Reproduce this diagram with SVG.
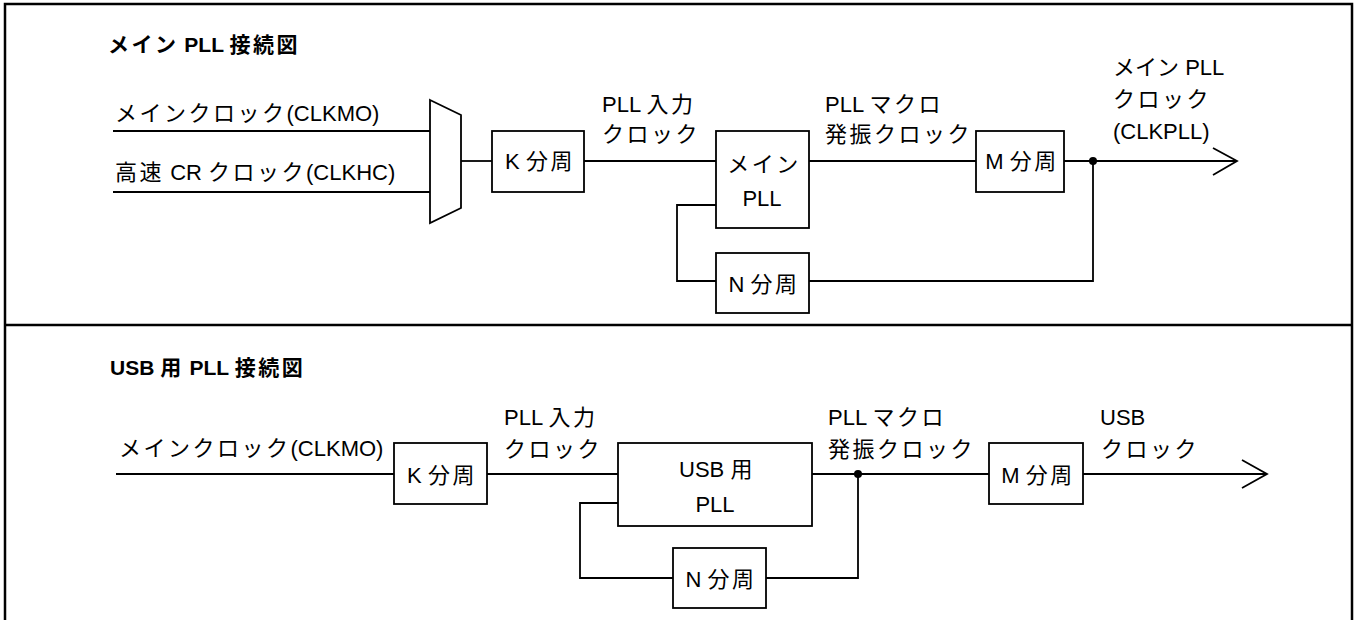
<svg xmlns="http://www.w3.org/2000/svg" width="1354" height="620" viewBox="0 0 1354 620">
<style>
.t{font-family:"Liberation Sans","Noto Sans CJK JP",sans-serif;font-size:22px;fill:#000}
.j{letter-spacing:2.5px}
.jb{letter-spacing:2.5px}
.b{font-weight:bold;font-size:21px}
.c{text-anchor:middle}
.box{fill:#fff;stroke:#000;stroke-width:1.8}
.ln{fill:none;stroke:#000;stroke-width:1.8}
.frame{fill:none;stroke:#000;stroke-width:2.5}
</style>
<rect x="5" y="4" width="1347" height="650" fill="#fff"/>
<g id="frame">
<rect class="frame" x="5" y="4" width="1347" height="650"/>
<line class="frame" x1="5" y1="325" x2="1352" y2="325"/>
</g>
<g id="connectors">
<line class="ln" x1="113" y1="131" x2="430" y2="131"/>
<line class="ln" x1="113" y1="192" x2="430" y2="192"/>
<line class="ln" x1="461" y1="161" x2="492" y2="161"/>
<line class="ln" x1="584" y1="161" x2="716" y2="161"/>
<line class="ln" x1="809" y1="161" x2="976" y2="161"/>
<line class="ln" x1="1064" y1="161" x2="1237" y2="161"/>
<polyline class="ln" points="1213,148 1237,161 1213,175"/>
<polyline class="ln" points="716,205 677,205 677,281 716,281"/>
<polyline class="ln" points="809,281 1093,281 1093,161"/>
<circle cx="1093" cy="161" r="4" fill="#000"/>
<line class="ln" x1="116" y1="474" x2="394" y2="474"/>
<line class="ln" x1="487" y1="474" x2="618" y2="474"/>
<line class="ln" x1="812" y1="474" x2="989" y2="474"/>
<line class="ln" x1="1083" y1="474" x2="1267" y2="474"/>
<polyline class="ln" points="1242,460 1267,474 1242,488"/>
<polyline class="ln" points="618,503 580,503 580,578 673,578"/>
<polyline class="ln" points="766,578 858,578 858,474"/>
<circle cx="858" cy="474" r="4" fill="#000"/>
</g>
<g id="labels">
<text class="t b" x="108" y="52"><tspan class="jb">メイン</tspan> PLL <tspan class="jb">接続図</tspan></text>
<text class="t" x="115" y="121"><tspan class="j">メインクロック</tspan>(CLKMO)</text>
<text class="t" x="115" y="180"><tspan class="j">高速</tspan> CR <tspan class="j">クロック</tspan>(CLKHC)</text>
<text class="t" x="602" y="112">PLL <tspan class="j">入力</tspan></text>
<text class="t" x="602" y="142"><tspan class="j">クロック</tspan></text>
<text class="t" x="825" y="112">PLL <tspan class="j">マクロ</tspan></text>
<text class="t" x="825" y="142"><tspan class="j">発振クロック</tspan></text>
<text class="t" x="1113" y="75"><tspan>メイン</tspan> PLL</text>
<text class="t" x="1113" y="107"><tspan class="j">クロック</tspan></text>
<text class="t" x="1113" y="139">(CLKPLL)</text>
<text class="t b" x="110" y="375">USB <tspan class="jb">用</tspan> PLL <tspan class="jb">接続図</tspan></text>
<text class="t" x="119" y="456"><tspan class="j">メインクロック</tspan>(CLKMO)</text>
<text class="t" x="504" y="425">PLL <tspan class="j">入力</tspan></text>
<text class="t" x="504" y="457"><tspan class="j">クロック</tspan></text>
<text class="t" x="828" y="425">PLL <tspan class="j">マクロ</tspan></text>
<text class="t" x="828" y="457"><tspan class="j">発振クロック</tspan></text>
<text class="t" x="1100" y="425">USB</text>
<text class="t" x="1101" y="457"><tspan class="j">クロック</tspan></text>
</g>
<g id="mux1">
<polygon class="box" points="430,100 461,115 461,208 430,223"/>
</g>
<g id="k1">
<rect class="box" x="492" y="131" width="92" height="61"/>
<text class="t c" x="540" y="169">K <tspan class="j">分周</tspan></text>
</g>
<g id="pll1">
<rect class="box" x="716" y="131" width="93" height="97"/>
<text class="t c" x="764" y="172"><tspan class="j">メイン</tspan></text>
<text class="t c" x="762" y="206">PLL</text>
</g>
<g id="n1">
<rect class="box" x="716" y="253" width="93" height="60"/>
<text class="t c" x="764" y="292">N <tspan class="j">分周</tspan></text>
</g>
<g id="m1">
<rect class="box" x="976" y="131" width="88" height="61"/>
<text class="t c" x="1022" y="169">M <tspan class="j">分周</tspan></text>
</g>
<g id="k2">
<rect class="box" x="394" y="443" width="93" height="61"/>
<text class="t c" x="442" y="483">K <tspan class="j">分周</tspan></text>
</g>
<g id="pll2">
<rect class="box" x="618" y="443" width="194" height="83"/>
<text class="t c" x="717" y="477">USB <tspan class="j">用</tspan></text>
<text class="t c" x="715" y="512">PLL</text>
</g>
<g id="n2">
<rect class="box" x="673" y="548" width="93" height="60"/>
<text class="t c" x="721" y="587">N <tspan class="j">分周</tspan></text>
</g>
<g id="m2">
<rect class="box" x="989" y="443" width="94" height="61"/>
<text class="t c" x="1038" y="483">M <tspan class="j">分周</tspan></text>
</g>
</svg>
